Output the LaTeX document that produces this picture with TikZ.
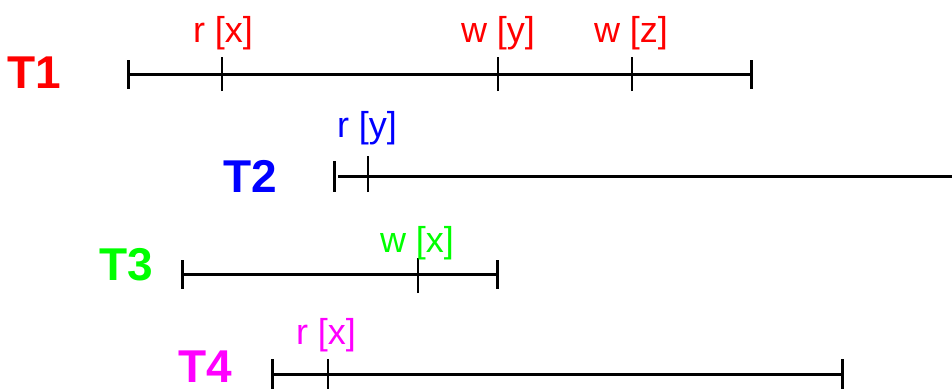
\documentclass[tikz,border=0pt]{standalone}
\usepackage{fontspec}
\setmainfont{Liberation Sans}
\definecolor{tgreen}{RGB}{0,255,0}
\definecolor{tblue}{RGB}{0,0,255}
\definecolor{tmagenta}{RGB}{255,0,255}
\begin{document}
\begin{tikzpicture}[x=1pt,y=-1pt,
    txn/.style={font=\fontsize{46}{46}\selectfont\bfseries, inner sep=0pt},
    op/.style={font=\fontsize{36}{36}\selectfont, anchor=base},
    life/.style={line width=3pt},
    endbar/.style={line width=3pt},
    optick/.style={line width=1.6pt}]
  \useasboundingbox (0,0) rectangle (952,388);
  % transactions
  \node[txn, red] (T1) at (34,73) {T1};
  \node[txn, tblue] (T2) at (250,176) {T2};
  \node[txn, tgreen] (T3) at (126,265) {T3};
  \node[txn, tmagenta] (T4) at (205,367) {T4};
  % time lines
  \coordinate (s1) at (128,74);
  \coordinate (a1) at (222,74);
  \coordinate (b1) at (498,74);
  \coordinate (c1) at (632,74);
  \coordinate (e1) at (751,74);
  \coordinate (s2) at (334,176);
  \coordinate (l2) at (338,176);
  \coordinate (a2) at (368,176);
  \coordinate (e2) at (954,176);
  \coordinate (s3) at (182,274);
  \coordinate (a3) at (418,274);
  \coordinate (e3) at (497,274);
  \coordinate (s4) at (272,374);
  \coordinate (a4) at (328,374);
  \coordinate (e4) at (842,374);
  \begin{scope}[life]
    \draw (s1) to (e1);
    \draw (l2) to (e2);
    \draw (s3) to (e3);
    \draw (s4) to (e4);
  \end{scope}
  \begin{scope}[endbar]
    \draw ([yshift=-14.5pt]s1) to ([yshift=14.5pt]s1);
    \draw ([yshift=-14.5pt]e1) to ([yshift=14.5pt]e1);
    \draw ([yshift=-15.5pt]s2) to ([yshift=15.5pt]s2);
    \draw ([yshift=-14.5pt]s3) to ([yshift=14.5pt]s3);
    \draw ([yshift=-14.5pt]e3) to ([yshift=14.5pt]e3);
    \draw ([yshift=-15pt]s4) to ([yshift=15pt]s4);
    \draw ([yshift=-15pt]e4) to ([yshift=15pt]e4);
  \end{scope}
  \begin{scope}[optick]
    \draw ([yshift=-17pt]a1) to ([yshift=17pt]a1);
    \draw ([yshift=-17pt]b1) to ([yshift=17pt]b1);
    \draw ([yshift=-17pt]c1) to ([yshift=17pt]c1);
    \draw ([yshift=-16pt]a2) to ([yshift=20pt]a2);
    \draw ([yshift=-19pt]a3) to ([yshift=16pt]a3);
    \draw ([yshift=-15pt]a4) to ([yshift=15pt]a4);
  \end{scope}
  % operations
  \node[op, red] (ra1) at (223,42) {r [x]};
  \node[op, red] (wb1) at (498,42) {w [y]};
  \node[op, red] (wc1) at (631,42) {w [z]};
  \node[op, tblue] (ra2) at (367,137) {r [y]};
  \node[op, tgreen] (wa3) at (417,252) {w [x]};
  \node[op, tmagenta] (ra4) at (326,344) {r [x]};
\end{tikzpicture}
\end{document}
